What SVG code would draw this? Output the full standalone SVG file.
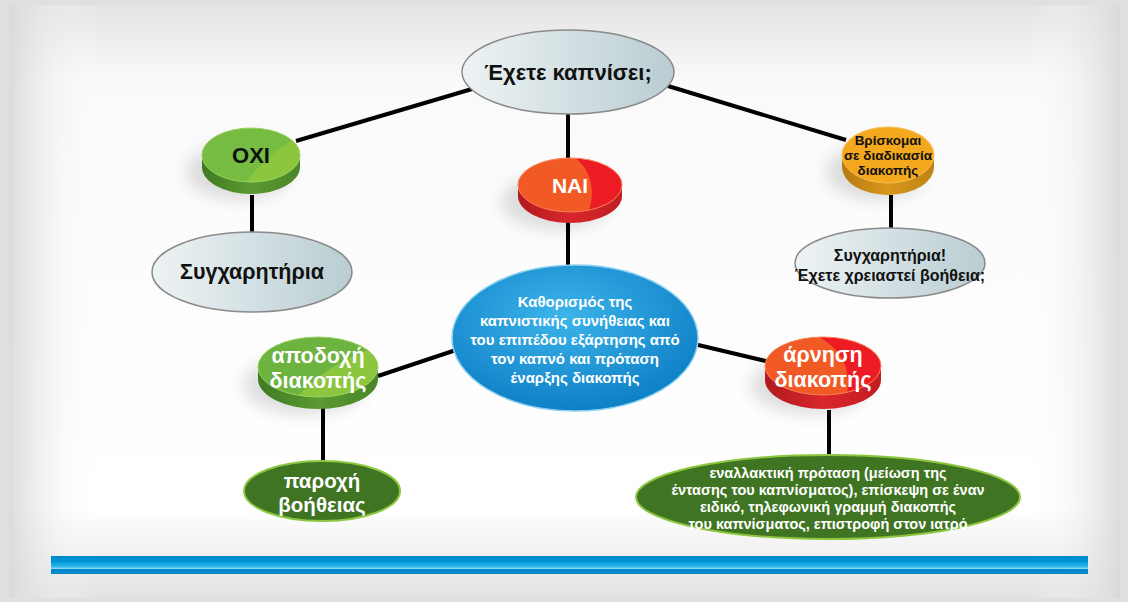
<svg xmlns="http://www.w3.org/2000/svg" width="1128" height="602" viewBox="0 0 1128 602">
<defs>
<linearGradient id="bgV" x1="0" y1="0" x2="0" y2="1">
<stop offset="0" stop-color="#e4e4e4"/><stop offset="0.13" stop-color="#fafafa"/><stop offset="0.85" stop-color="#ffffff"/><stop offset="1" stop-color="#e2e2e2"/>
</linearGradient>
<linearGradient id="bgH" x1="0" y1="0" x2="1" y2="0">
<stop offset="0" stop-color="#d8d8d8" stop-opacity="0.9"/><stop offset="0.08" stop-color="#ffffff" stop-opacity="0"/><stop offset="0.92" stop-color="#ffffff" stop-opacity="0"/><stop offset="1" stop-color="#d8d8d8" stop-opacity="0.9"/>
</linearGradient>
<linearGradient id="bar" x1="0" y1="0" x2="0" y2="1">
<stop offset="0" stop-color="#0088cc"/><stop offset="0.3" stop-color="#0096d6"/><stop offset="0.6" stop-color="#33b8ea"/><stop offset="0.7" stop-color="#8fd6f4"/><stop offset="0.72" stop-color="#0088cc"/><stop offset="1" stop-color="#0088cc"/>
</linearGradient>
<linearGradient id="grayEl" x1="0" y1="0" x2="1" y2="0">
<stop offset="0" stop-color="#eef3f4"/><stop offset="1" stop-color="#b9cdd2"/>
</linearGradient>
<radialGradient id="blueEl" cx="0.45" cy="0.35" r="0.7">
<stop offset="0" stop-color="#3db4ea"/><stop offset="1" stop-color="#0a7cc4"/>
</radialGradient>
<linearGradient id="sideG" x1="0" y1="0" x2="1" y2="0">
<stop offset="0" stop-color="#3f7a22"/><stop offset="0.5" stop-color="#5a9a30"/><stop offset="1" stop-color="#4a8628"/>
</linearGradient>
<linearGradient id="sideR" x1="0" y1="0" x2="1" y2="0">
<stop offset="0" stop-color="#b01a1f"/><stop offset="0.5" stop-color="#d9262b"/><stop offset="1" stop-color="#c01e24"/>
</linearGradient>
<linearGradient id="sideO" x1="0" y1="0" x2="1" y2="0">
<stop offset="0" stop-color="#b87a10"/><stop offset="0.5" stop-color="#d6961c"/><stop offset="1" stop-color="#c08414"/>
</linearGradient>
<filter id="sh" x="-50%" y="-50%" width="200%" height="200%"><feGaussianBlur stdDeviation="8"/></filter>
<clipPath id="cOxi"><ellipse cx="251" cy="155" rx="49" ry="27"/></clipPath>
<clipPath id="cNai"><ellipse cx="570" cy="185" rx="52" ry="27"/></clipPath>
<clipPath id="cApo"><ellipse cx="318" cy="367" rx="60" ry="30"/></clipPath>
<clipPath id="cArn"><ellipse cx="823" cy="366" rx="58" ry="29"/></clipPath>
</defs>
<style>
.t{font-family:"Liberation Sans",Arial,sans-serif;text-anchor:middle}
.b{font-weight:bold}
.k{fill:#111}
.w{fill:#fff}
.ln{stroke:#000;stroke-width:4;fill:none}
.shd{fill:#000;opacity:0.12}
</style>
<rect width="1128" height="602" fill="#e0e0e0"/>
<rect x="9" y="5" width="1111" height="593" fill="url(#bgV)"/>
<rect x="9" y="5" width="1111" height="593" fill="url(#bgH)"/>
<rect x="51" y="556" width="1037" height="18" fill="url(#bar)"/>

<g id="connectors">
<line class="ln" x1="472" y1="89" x2="296" y2="141"/>
<line class="ln" x1="568" y1="114" x2="568" y2="158"/>
<line class="ln" x1="668" y1="86" x2="846" y2="140"/>
<line class="ln" x1="252" y1="195" x2="252" y2="233"/>
<line class="ln" x1="891" y1="195" x2="891" y2="229"/>
<line class="ln" x1="568" y1="222" x2="568" y2="266"/>
<line class="ln" x1="456" y1="350" x2="378" y2="376"/>
<line class="ln" x1="694" y1="344" x2="770" y2="362"/>
<line class="ln" x1="323" y1="408" x2="323" y2="463"/>
<line class="ln" x1="829" y1="410" x2="829" y2="456"/>
</g>

<g id="n-top">
<ellipse cx="568" cy="72" rx="106" ry="42" fill="url(#grayEl)" stroke="#8a8a8a" stroke-width="1.5"/>
<text class="t b k" x="568" y="80" font-size="22">Έχετε καπνίσει;</text>
</g>

<g id="n-oxi">
<ellipse class="shd" cx="238" cy="172" rx="52" ry="28" filter="url(#sh)"/>
<path d="M202,155 L202,167 A49,27 0 0 0 300,167 L300,155 Z" fill="url(#sideG)"/>
<ellipse cx="251" cy="155" rx="49" ry="27" fill="#76bc43"/>
<path d="M240,190 C262,160 280,145 305,135 L305,190 Z" fill="#8cc63f" clip-path="url(#cOxi)"/>
<ellipse cx="251" cy="155" rx="49" ry="27" fill="none" stroke="#9bd260" stroke-width="1"/>
<text class="t b k" x="251" y="163" font-size="22">ΟΧΙ</text>
</g>

<g id="n-nai">
<ellipse class="shd" cx="556" cy="202" rx="55" ry="28" filter="url(#sh)"/>
<path d="M518,185 L518,196 A52,27 0 0 0 622,196 L622,185 Z" fill="url(#sideR)"/>
<ellipse cx="570" cy="185" rx="52" ry="27" fill="#f15a24"/>
<path d="M560,150 C590,160 600,190 585,220 L630,220 L630,150 Z" fill="#ed1c24" clip-path="url(#cNai)"/>
<ellipse cx="570" cy="185" rx="52" ry="27" fill="none" stroke="#f7805a" stroke-width="1"/>
<text class="t b w" x="570" y="193" font-size="21">ΝΑΙ</text>
</g>

<g id="n-vrisk">
<ellipse class="shd" cx="876" cy="172" rx="50" ry="28" filter="url(#sh)"/>
<path d="M842,155 L842,167 A46,28 0 0 0 934,167 L934,155 Z" fill="url(#sideO)"/>
<ellipse cx="888" cy="155" rx="46" ry="28" fill="#f3a81e"/>
<ellipse cx="888" cy="155" rx="46" ry="28" fill="none" stroke="#f8c050" stroke-width="1"/>
<text class="t k" font-size="13.5" font-weight="600"><tspan x="888" y="145">Βρίσκομαι</tspan><tspan x="888" y="160">σε διαδικασία</tspan><tspan x="888" y="175">διακοπής</tspan></text>
</g>

<g id="n-syg1">
<ellipse cx="252" cy="272" rx="100" ry="40" fill="url(#grayEl)" stroke="#8a8a8a" stroke-width="1.5"/>
<text class="t b k" x="252" y="279" font-size="21.5">Συγχαρητήρια</text>
</g>

<g id="n-syg2">
<ellipse cx="890" cy="263" rx="95" ry="35" fill="url(#grayEl)" stroke="#8a8a8a" stroke-width="1.5"/>
<text class="t k" font-size="16" font-weight="bold"><tspan x="890" y="261">Συγχαρητήρια!</tspan><tspan x="890" y="281">Έχετε χρειαστεί βοήθεια;</tspan></text>
</g>

<g id="n-center">
<ellipse cx="575" cy="338" rx="123" ry="73" fill="url(#blueEl)" stroke="#8ed3f2" stroke-width="1.5"/>
<text class="t w" font-size="15" font-weight="bold"><tspan x="575" y="307">Καθορισμός της</tspan><tspan x="575" y="326">καπνιστικής συνήθειας και</tspan><tspan x="575" y="345">του επιπέδου εξάρτησης από</tspan><tspan x="575" y="364">τον καπνό και πρόταση</tspan><tspan x="575" y="383">έναρξης διακοπής</tspan></text>
</g>

<g id="n-apodoxi">
<ellipse class="shd" cx="305" cy="385" rx="62" ry="30" filter="url(#sh)"/>
<path d="M258,367 L258,379 A60,30 0 0 0 378,379 L378,367 Z" fill="url(#sideG)"/>
<ellipse cx="318" cy="367" rx="60" ry="30" fill="#6cb33f"/>
<path d="M290,405 C315,375 345,355 385,345 L385,405 Z" fill="#8cc63f" clip-path="url(#cApo)"/>
<ellipse cx="318" cy="367" rx="60" ry="30" fill="none" stroke="#9bd260" stroke-width="1"/>
<text class="t w" font-size="21.5" font-weight="600"><tspan x="318" y="363">αποδοχή</tspan><tspan x="318" y="388">διακοπής</tspan></text>
</g>

<g id="n-arnisi">
<ellipse class="shd" cx="810" cy="385" rx="60" ry="30" filter="url(#sh)"/>
<path d="M765,366 L765,380 A58,29 0 0 0 881,380 L881,366 Z" fill="url(#sideR)"/>
<ellipse cx="823" cy="366" rx="58" ry="29" fill="#f15a24"/>
<path d="M800,330 C840,340 855,370 845,400 L890,400 L890,330 Z" fill="#ed1c24" clip-path="url(#cArn)"/>
<ellipse cx="823" cy="366" rx="58" ry="29" fill="none" stroke="#f7805a" stroke-width="1"/>
<text class="t w" font-size="21.5" font-weight="600"><tspan x="823" y="362">άρνηση</tspan><tspan x="823" y="387">διακοπής</tspan></text>
</g>

<g id="n-paroxi">
<ellipse cx="322" cy="491" rx="78" ry="30" fill="#3f7522" stroke="#8cc63f" stroke-width="2"/>
<text class="t w" font-size="20.5" font-weight="600"><tspan x="322" y="488">παροχή</tspan><tspan x="322" y="512">βοήθειας</tspan></text>
</g>

<g id="n-enallaktiki">
<ellipse cx="828" cy="497" rx="192" ry="42" fill="#3f7522" stroke="#8cc63f" stroke-width="2"/>
<text class="t w" font-size="14.5" font-weight="600"><tspan x="828" y="478">εναλλακτική πρόταση (μείωση της</tspan><tspan x="828" y="495">έντασης του καπνίσματος), επίσκεψη σε έναν</tspan><tspan x="828" y="512">ειδικό, τηλεφωνική γραμμή διακοπής</tspan><tspan x="828" y="529">του καπνίσματος, επιστροφή στον ιατρό</tspan></text>
</g>
</svg>
